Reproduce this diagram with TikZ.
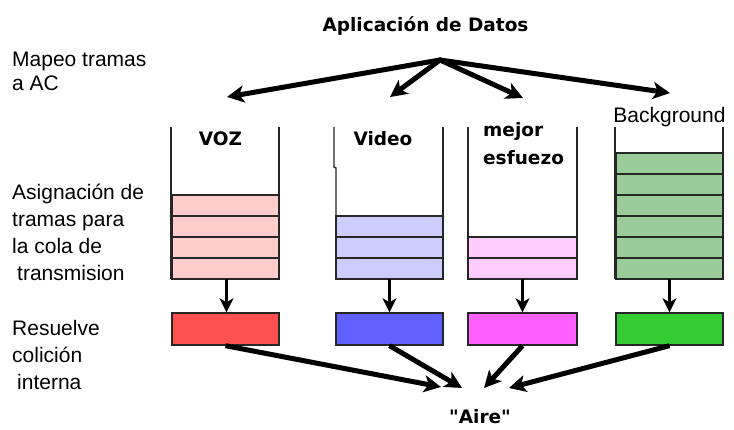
\documentclass[tikz,border=0pt]{standalone}
\usepackage{fontspec}
\setmainfont{Liberation Sans}
\newfontfamily\boldfont{DejaVu Sans}
\usetikzlibrary{arrows.meta}
\definecolor{c1l}{HTML}{FFCCCC}
\definecolor{c1d}{HTML}{FF5050}
\definecolor{c2l}{HTML}{CCCCFF}
\definecolor{c2d}{HTML}{6060FF}
\definecolor{c3l}{HTML}{FFCCFF}
\definecolor{c3d}{HTML}{FF60FF}
\definecolor{c4l}{HTML}{99CC99}
\definecolor{c4d}{HTML}{33CC33}
\begin{document}
\begin{tikzpicture}[x=1pt,y=-1pt,
 lbl/.style={font=\fontsize{21}{27}\selectfont, align=left, anchor=base west, inner sep=0},
 bl/.style={font=\boldfont\bfseries\fontsize{18.5}{28}\selectfont, inner sep=0},
 cell/.style={draw=black!85, line width=1.4pt},
 wall/.style={draw=black!85, line width=1.4pt},
 outbox/.style={draw=black!85, line width=1.4pt, minimum width=107pt, minimum height=32pt, inner sep=0},
 qspace/.style={inner sep=0, minimum width=107pt, minimum height=152pt, anchor=south},
 big/.style={line width=5pt, -{Stealth[length=17pt,width=17pt,inset=4.5pt]}},
 small/.style={line width=3.5pt, -{Stealth[length=14pt,width=14pt,inset=4pt]}},
]
\fill[white] (0,0) rectangle (734,430);
\useasboundingbox (0,0) rectangle (734,430);

% left labels (base anchor = baseline of the last line)
\node[lbl, font=\fontsize{21}{24}\selectfont] (l1) at (12,91) {Mapeo tramas\\a AC};
\node[lbl] (l2) at (12,281) {Asignación de\\tramas para\\la cola de\\\hspace*{5pt}transmision};
\node[lbl] (l3) at (12,389) {Resuelve\\colición\\\hspace*{5pt}interna};

% title
\node[bl, anchor=base] (title) at (425.5,32) {Aplicación de Datos};

% queue walls
\draw[wall] (171,127) -- (171,279);
\draw[wall] (279,127) -- (279,279);
\draw[wall] (334,127) -- (334,167) -- (336,168) -- (336,279);
\draw[wall] (443,127) -- (443,279);
\draw[wall] (468,127) -- (468,279);
\draw[wall] (577,127) -- (577,279);
\draw[wall] (615,127) -- (615,279);
\draw[wall] (723,127) -- (723,279);

% queue cells
\foreach \k in {0,...,3} \draw[cell, fill=c1l] (172,{279-21*\k}) rectangle (279,{258-21*\k});
\foreach \k in {0,...,2} \draw[cell, fill=c2l] (336,{279-21*\k}) rectangle (443,{258-21*\k});
\foreach \k in {0,...,1} \draw[cell, fill=c3l] (468,{279-21*\k}) rectangle (577,{258-21*\k});
\foreach \k in {0,...,5} \draw[cell, fill=c4l] (616,{279-21*\k}) rectangle (723,{258-21*\k});

% queue names
\node[bl, anchor=base] (voz) at (220.5,146) {VOZ};
\node[bl, anchor=base] (video) at (383,146) {Video};
\node[bl, anchor=base west, align=left] (mejor) at (483,165) {mejor\\esfuezo};
\node[lbl, anchor=base] (bg) at (669.5,123) {Background};

% queue spaces (for arrows)
\node[qspace] (q1) at (226.5,279) {};
\node[qspace] (q2) at (389.5,279) {};
\node[qspace, minimum width=109pt] (q3) at (522.5,279) {};
\node[qspace] (q4) at (669.5,279) {};

% collision boxes
\node[outbox, fill=c1d] (r1) at (225.5,329) {};
\node[outbox, fill=c2d] (r2) at (389.5,329) {};
\node[outbox, fill=c3d, minimum width=109pt] (r3) at (522.5,329) {};
\node[outbox, fill=c4d] (r4) at (669.5,329) {};

% queue -> box arrows
\draw[small] (q1.south) -- (q1.south |- r1.north);
\draw[small] (q2.south) -- (r2.north);
\draw[small] (q3.south) -- (r3.north);
\draw[small] (q4.south) -- (r4.north);

% top arrows
\coordinate (apex) at (440,60);
\coordinate (a1) at (227,97);
\coordinate (a2) at (390,97);
\coordinate (a3) at (523,98);
\coordinate (a4) at (670,93);
\foreach \t in {a1,a2,a3,a4} \draw[big, line join=round, line cap=round] (apex) -- (\t);

% bottom arrows
\coordinate (t1) at (441,387);
\coordinate (t2) at (462,388);
\coordinate (t3) at (484,388);
\coordinate (t4) at (509,388);
\draw[big] (r1.south) -- (t1);
\draw[big] (r2.south) -- (t2);
\draw[big] (r3.south) -- (t3);
\draw[big] (r4.south) -- (t4);

\node[bl, anchor=base] (aire) at (480,424) {"Aire"};
\end{tikzpicture}
\end{document}
